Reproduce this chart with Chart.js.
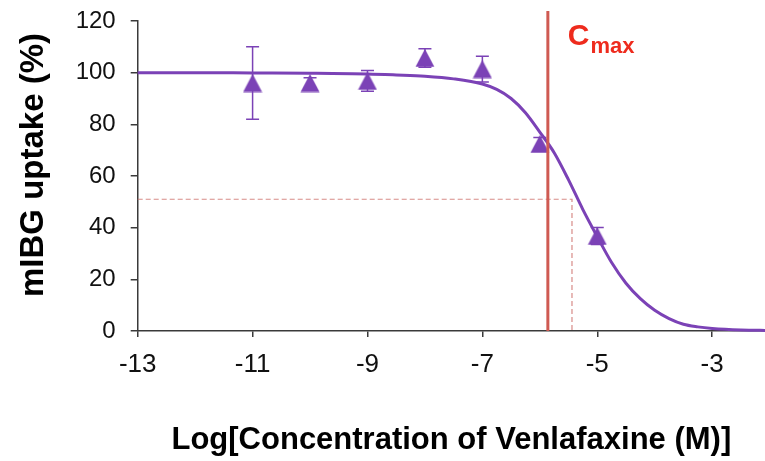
<!DOCTYPE html>
<html>
<head>
<meta charset="utf-8">
<script src="https://cdn.jsdelivr.net/npm/chart.js@4"></script>
<style>
  html, body { margin: 0; padding: 0; background: #fff; overflow: hidden; }
  #wrap { width: 765px; height: 461px; position: relative; }
</style>
</head>
<body>
<div id="wrap"><canvas id="chart"></canvas></div>
<script>
// measured points (log molar conc, % uptake, error)
const DOSE_LOG = [-11, -10, -9, -8, -7, -6, -5];
const UPTAKE = [96, 96, 96.8, 105.7, 101.4, 72.4, 36.8];
const UPTAKE_ERR = [14, 2, 4, 3.6, 5, 2.5, 3.3];

// fitted curve
const FIT_LOG = [-13, -12, -11, -10, -9, -8.5, -8, -7.5, -7, -6.75, -6.5, -6.25, -6, -5.75, -5.5, -5.25, -5, -4.75, -4.5, -4.25, -4, -3.75, -3.5, -3.25, -3, -2.5, -2];
const FIT_UPTAKE = [100, 100, 99.9, 99.8, 99.5, 99.1, 98.6, 97.6, 95.6, 93.5, 90, 84.5, 77, 69, 58.5, 47, 36.5, 26.5, 18.5, 12.5, 8, 4.8, 2.6, 1.6, 1, 0.4, 0.2];

const X_TICKS = [-13, -11, -9, -7, -5, -3];
const CMAX_LOG = -5.86;
const HALF_LOG = -5.44;
const HALF_UPTAKE = 51;

const PURPLE = '#7b42b6';
const AXIS = '#3a3a3a';
const FONT = '"Liberation Sans", Arial, sans-serif';

// triangle marker centred on its box, like the original
function triangleMarker() {
    const c = document.createElement('canvas');
    c.width = 20; c.height = 19;
    const g = c.getContext('2d');
    g.fillStyle = PURPLE;
    g.beginPath();
    g.moveTo(10, 0.5);
    g.lineTo(19.5, 18.5);
    g.lineTo(0.5, 18.5);
    g.closePath();
    g.fill();
    return c;
}

const errorBars = {
    id: 'errorBars',
    beforeDatasetsDraw(chart) {
        const { ctx, scales: { x, y } } = chart;
        ctx.save();
        ctx.strokeStyle = PURPLE;
        ctx.lineWidth = 1.5;
        DOSE_LOG.forEach((d, i) => {
            const px = x.getPixelForValue(d);
            const top = y.getPixelForValue(UPTAKE[i] + UPTAKE_ERR[i]);
            const bot = y.getPixelForValue(UPTAKE[i] - UPTAKE_ERR[i]);
            ctx.beginPath();
            ctx.moveTo(px, top); ctx.lineTo(px, bot);
            ctx.moveTo(px - 6.5, top); ctx.lineTo(px + 6.5, top);
            ctx.moveTo(px - 6.5, bot); ctx.lineTo(px + 6.5, bot);
            ctx.stroke();
        });
        ctx.restore();
    }
};

const refLines = {
    id: 'refLines',
    beforeDatasetsDraw(chart) {
        const { ctx, chartArea, scales: { x, y } } = chart;
        const hx = x.getPixelForValue(HALF_LOG);
        const hy = y.getPixelForValue(HALF_UPTAKE);
        ctx.save();
        ctx.strokeStyle = 'rgba(205, 110, 105, 0.8)';
        ctx.lineWidth = 1.2;
        ctx.setLineDash([5, 3]);
        ctx.beginPath();
        ctx.moveTo(chartArea.left, hy); ctx.lineTo(hx, hy);
        ctx.lineTo(hx, chartArea.bottom);
        ctx.stroke();
        ctx.restore();
    },
    afterDraw(chart) {
        const { ctx, chartArea, scales: { x } } = chart;
        const cx = x.getPixelForValue(CMAX_LOG);
        ctx.save();
        ctx.strokeStyle = '#cf5a52';
        ctx.lineWidth = 3;
        ctx.beginPath();
        ctx.moveTo(cx, chartArea.top - 10);
        ctx.lineTo(cx, chartArea.bottom);
        ctx.stroke();
        // Cmax label
        ctx.fillStyle = '#ee2b1d';
        ctx.textBaseline = 'alphabetic';
        ctx.font = 'bold 30px ' + FONT;
        ctx.fillText('C', cx + 20, 45);
        const w = ctx.measureText('C').width;
        ctx.font = 'bold 22px ' + FONT;
        ctx.fillText('max', cx + 21 + w, 53);

        // y axis title, sits a bit above the middle of the axis
        ctx.fillStyle = '#000';
        ctx.font = 'bold 33px ' + FONT;
        ctx.textAlign = 'center';
        ctx.textBaseline = 'middle';
        ctx.translate(34, 165);
        ctx.rotate(-Math.PI / 2);
        ctx.fillText('mIBG uptake (%)', 0, 0);
        ctx.restore();
    }
};

const ctx = document.getElementById('chart').getContext('2d');
new Chart(ctx, {
    type: 'scatter',
    data: {
        datasets: [{
            label: 'Venlafaxine',
            data: DOSE_LOG.map((d, i) => ({ x: d, y: UPTAKE[i] })),
            pointStyle: triangleMarker(),
            pointRadius: 10,
            showLine: false,
            clip: false
        }, {
            label: 'fit',
            type: 'line',
            data: FIT_LOG.map((d, i) => ({ x: d, y: FIT_UPTAKE[i] })),
            borderColor: PURPLE,
            borderWidth: 3,
            pointRadius: 0,
            cubicInterpolationMode: 'monotone',
            fill: false,
            clip: 4
        }]
    },
    options: {
        responsive: true,
        maintainAspectRatio: false,
        animation: false,
        events: [],
        layout: { autoPadding: false, padding: { left: 0, top: 21, right: 0, bottom: 0 } },
        plugins: { legend: { display: false }, tooltip: { enabled: false } },
        scales: {
            x: {
                type: 'linear',
                min: -13,
                max: -2.08,
                afterBuildTicks: (axis) => { axis.ticks = X_TICKS.map(v => ({ value: v })); },
                afterFit: (axis) => { axis.height = 130; },
                grid: { drawOnChartArea: false, drawTicks: true, tickLength: 6, color: AXIS, lineWidth: 1.5 },
                border: { display: true, color: AXIS, width: 1.5 },
                ticks: {
                    color: '#111',
                    padding: 12,
                    maxRotation: 0,
                    font: { family: FONT, size: 26 }
                },
                title: {
                    display: true,
                    text: 'Log[Concentration of Venlafaxine (M)]',
                    color: '#000',
                    padding: { top: 0, bottom: 2 },
                    font: { family: FONT, size: 31, weight: 'bold' }
                }
            },
            y: {
                min: 0,
                max: 120,
                afterFit: (axis) => { axis.width = 137.7; axis.paddingTop = 0; axis.paddingBottom = 0; },
                grid: { drawOnChartArea: false, drawTicks: true, tickLength: 7, color: AXIS, lineWidth: 1.5 },
                border: { display: true, color: AXIS, width: 1.5 },
                ticks: {
                    stepSize: 20,
                    color: '#111',
                    padding: 15,
                    font: { family: FONT, size: 24 }
                }
            }
        }
    },
    plugins: [errorBars, refLines]
});
</script>
</body>
</html>
